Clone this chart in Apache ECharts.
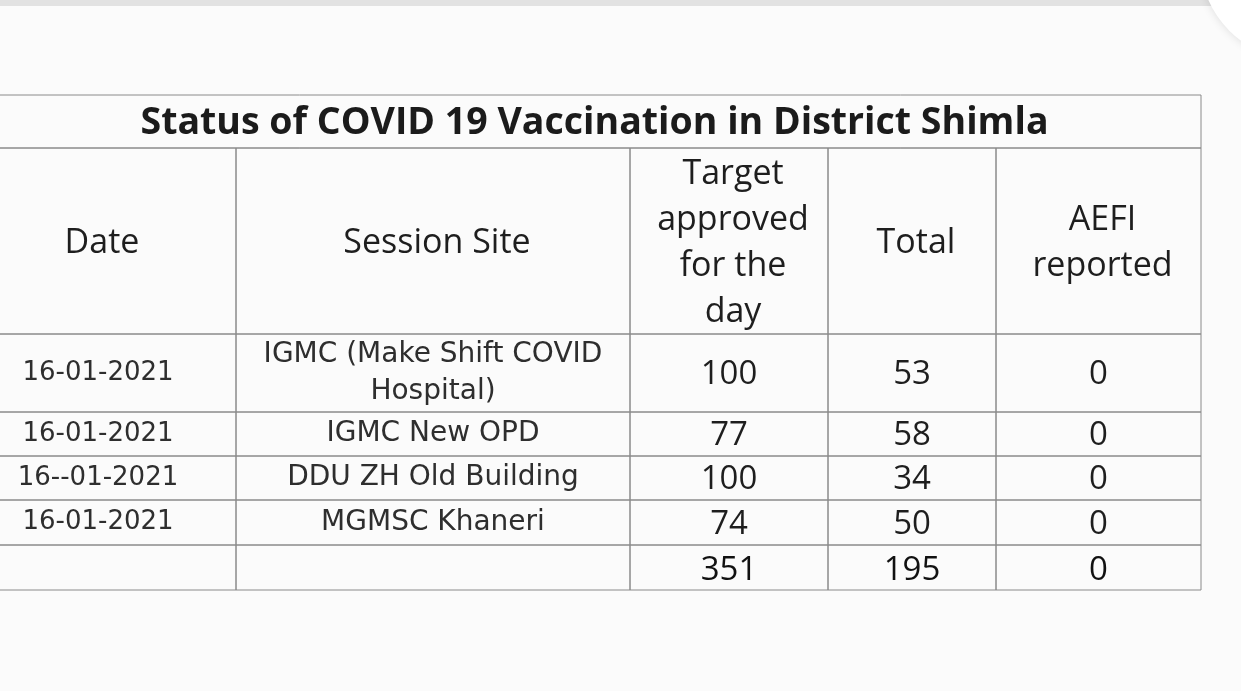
<!DOCTYPE html>
<html>
<head>
<meta charset="utf-8">
<title>Status of COVID 19 Vaccination in District Shimla</title>
<script src="https://cdn.jsdelivr.net/npm/echarts@6/dist/echarts.min.js"></script>
<style>
  html, body { margin: 0; padding: 0; background: #fbfbfb; }
  #main { width: 1241px; height: 691px; }
</style>
</head>
<body>
<div id="main"></div>
<script>
// table data
var title = 'Status of COVID 19 Vaccination in District Shimla';
var headers = ['Date', 'Session Site', 'Target\napproved\nfor the\nday', 'Total', 'AEFI\nreported'];
var dates = ['16-01-2021', '16-01-2021', '16--01-2021', '16-01-2021'];
var sites = ['IGMC (Make Shift COVID\nHospital)', 'IGMC New OPD', 'DDU ZH Old Building', 'MGMSC Khaneri'];
var targets = [100, 77, 100, 74];
var totals = [53, 58, 34, 50];
var aefi = [0, 0, 0, 0];
var sumRow = ['', '', 351, 195, 0];

// layout (column / row edges in layout units)
var colEdges = [-40, 236, 630, 828, 996, 1201];
var rowEdges = [95, 148, 334, 412, 456, 500, 545, 590];

var cells = [];
cells.push({ c0: 0, c1: 5, r: 0, text: title, kind: 'title' });
for (var i = 0; i < headers.length; i++) {
  cells.push({ c0: i, c1: i + 1, r: 1, text: headers[i], kind: 'head' });
}
for (var j = 0; j < dates.length; j++) {
  cells.push({ c0: 0, c1: 1, r: j + 2, text: dates[j], kind: 'body' });
  cells.push({ c0: 1, c1: 2, r: j + 2, text: sites[j], kind: 'site' });
  cells.push({ c0: 2, c1: 3, r: j + 2, text: String(targets[j]), kind: 'num' });
  cells.push({ c0: 3, c1: 4, r: j + 2, text: String(totals[j]), kind: 'num' });
  cells.push({ c0: 4, c1: 5, r: j + 2, text: String(aefi[j]), kind: 'num' });
}
for (var k = 0; k < sumRow.length; k++) {
  cells.push({ c0: k, c1: k + 1, r: 6, text: String(sumRow[k]), kind: 'sum' });
}

var fonts = {
  title: { fontFamily: 'Open Sans', fontWeight: 'bold', fontSize: 37.5, fill: '#1b1b1b', lineHeight: 40, dx: 14, dy: 2 },
  head: { fontFamily: 'Open Sans', fontWeight: 'normal', fontSize: 34, fill: '#1e1e1e', lineHeight: 46, dx: 4, dy: 2 },
  body: { fontFamily: 'DejaVu Sans', fontWeight: 'normal', fontSize: 26, fill: '#2e2e2e', lineHeight: 37, dx: 0, dy: 0 },
  site: { fontFamily: 'DejaVu Sans', fontWeight: 'normal', fontSize: 28, fill: '#2e2e2e', lineHeight: 37, dx: 0, dy: 0 },
  num: { fontFamily: 'Open Sans', fontWeight: 'normal', fontSize: 33, fill: '#1e1e1e', lineHeight: 36, dx: 0, dy: 2 },
  sum: { fontFamily: 'Open Sans', fontWeight: 'normal', fontSize: 33, fill: '#111', lineHeight: 36, dx: 0, dy: 3 }
};

function renderCell(params, api) {
  var cell = cells[params.dataIndex];
  var p0 = api.coord([colEdges[api.value(0)], rowEdges[api.value(2)]]);
  var p1 = api.coord([colEdges[api.value(1)], rowEdges[api.value(2) + 1]]);
  var f = fonts[cell.kind];
  return {
    type: 'group',
    children: [{
      type: 'rect',
      shape: { x: p0[0], y: p0[1], width: p1[0] - p0[0], height: p1[1] - p0[1] },
      style: { fill: 'rgba(0,0,0,0)', stroke: '#8a8a8a', lineWidth: 1 }
    }, {
      type: 'text',
      style: {
        x: (p0[0] + p1[0]) / 2 + f.dx,
        y: (p0[1] + p1[1]) / 2 + f.dy,
        text: cell.text,
        align: 'center',
        verticalAlign: 'middle',
        fontFamily: f.fontFamily,
        fontWeight: f.fontWeight,
        fontSize: f.fontSize,
        lineHeight: f.lineHeight,
        fill: f.fill
      }
    }]
  };
}

var chart = echarts.init(document.getElementById('main'));
chart.setOption({
  backgroundColor: '#fbfbfb',
  animation: false,
  grid: { left: 0, right: 0, top: 0, bottom: 0 },
  xAxis: { type: 'value', min: 0, max: 1241, show: false },
  yAxis: { type: 'value', min: 0, max: 691, inverse: true, show: false },
  graphic: [
    { type: 'rect', left: 0, top: 0, shape: { width: 1241, height: 6 }, style: { fill: '#e2e2e2' } },
    { type: 'circle', shape: { cx: 1300, cy: -40, r: 100 }, style: { fill: '#ffffff', shadowBlur: 10, shadowColor: 'rgba(0,0,0,0.12)' } }
  ],
  series: [{
    type: 'custom',
    renderItem: renderCell,
    data: cells.map(function (c) { return [c.c0, c.c1, c.r]; })
  }]
});
</script>
</body>
</html>
